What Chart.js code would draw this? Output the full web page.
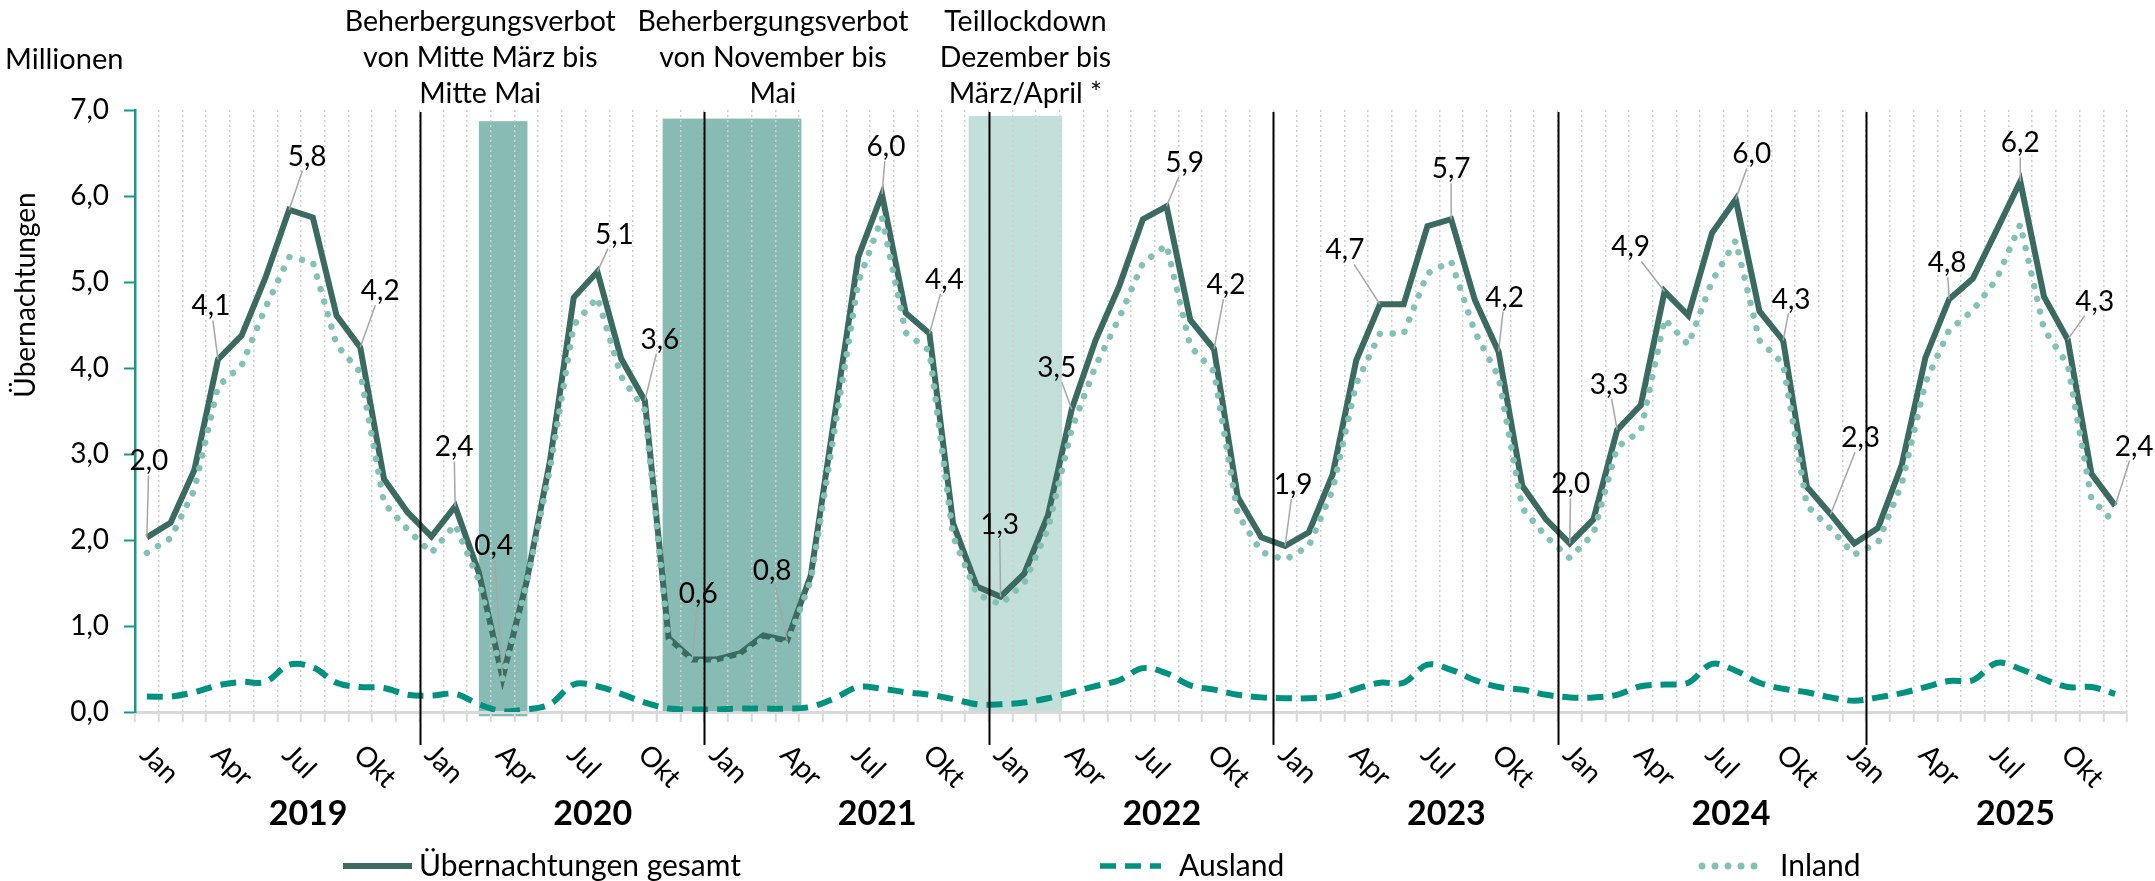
<!DOCTYPE html>
<html lang="de">
<head>
<meta charset="utf-8">
<title>Übernachtungen</title>
<script src="https://cdn.jsdelivr.net/npm/chart.js@4.4.1/dist/chart.umd.min.js"></script>
<style>
  html, body { margin: 0; padding: 0; background: #fff; }
  #wrap { width: 2155px; height: 881px; }
</style>
</head>
<body>
<div id="wrap"><canvas id="chart" width="2155" height="881"></canvas></div>
<script>
const YEARS = ['2019', '2020', '2021', '2022', '2023', '2024', '2025']
const MONTHS = ['Jan', 'Feb', 'Mär', 'Apr', 'Mai', 'Jun', 'Jul', 'Aug', 'Sep', 'Okt', 'Nov', 'Dez']
const Y_TICKS = [0, 1, 2, 3, 4, 5, 6, 7]

// Millionen Übernachtungen, Jan 2019 - Dez 2025
const GESAMT = [
  2.03, 2.20, 2.81, 4.10, 4.38, 5.05, 5.84, 5.75, 4.61, 4.24, 2.71, 2.32,
  2.04, 2.39, 1.62, 0.40, 1.50, 2.92, 4.82, 5.12, 4.11, 3.62, 0.86, 0.61,
  0.61, 0.68, 0.89, 0.83, 1.59, 3.44, 5.29, 6.02, 4.64, 4.40, 2.19, 1.46,
  1.34, 1.61, 2.29, 3.52, 4.32, 4.95, 5.73, 5.88, 4.56, 4.22, 2.50, 2.03,
  1.93, 2.09, 2.76, 4.09, 4.74, 4.74, 5.65, 5.73, 4.79, 4.19, 2.63, 2.24,
  1.96, 2.24, 3.28, 3.57, 4.89, 4.61, 5.57, 5.96, 4.66, 4.32, 2.62, 2.30,
  1.96, 2.14, 2.87, 4.12, 4.80, 5.04, 5.60, 6.17, 4.83, 4.33, 2.77, 2.40
]

const AUSLAND = [
  0.18, 0.18, 0.23, 0.31, 0.35, 0.35, 0.55, 0.52, 0.34, 0.29, 0.28, 0.20,
  0.19, 0.21, 0.09, 0.01, 0.03, 0.09, 0.32, 0.30, 0.21, 0.11, 0.04, 0.03,
  0.03, 0.04, 0.04, 0.04, 0.06, 0.16, 0.29, 0.27, 0.23, 0.20, 0.15, 0.09,
  0.09, 0.11, 0.16, 0.23, 0.30, 0.37, 0.51, 0.45, 0.31, 0.26, 0.20, 0.17,
  0.16, 0.16, 0.18, 0.27, 0.34, 0.34, 0.55, 0.49, 0.37, 0.29, 0.26, 0.20,
  0.17, 0.17, 0.20, 0.30, 0.32, 0.34, 0.56, 0.48, 0.34, 0.27, 0.23, 0.17,
  0.13, 0.17, 0.22, 0.29, 0.36, 0.37, 0.57, 0.50, 0.38, 0.29, 0.29, 0.21
]

const INLAND = [
  1.85, 2.02, 2.58, 3.79, 4.03, 4.70, 5.29, 5.23, 4.27, 3.95, 2.43, 2.12,
  1.85, 2.18, 1.53, 0.39, 1.47, 2.83, 4.50, 4.82, 3.90, 3.51, 0.82, 0.58,
  0.58, 0.64, 0.85, 0.79, 1.53, 3.28, 5.00, 5.75, 4.41, 4.20, 2.04, 1.37,
  1.25, 1.50, 2.13, 3.29, 4.02, 4.58, 5.22, 5.43, 4.25, 3.96, 2.30, 1.86,
  1.77, 1.93, 2.58, 3.82, 4.40, 4.40, 5.10, 5.24, 4.42, 3.90, 2.37, 2.04,
  1.79, 2.07, 3.08, 3.27, 4.57, 4.27, 5.01, 5.48, 4.32, 4.05, 2.40, 2.13,
  1.83, 1.97, 2.65, 3.83, 4.44, 4.67, 5.03, 5.67, 4.45, 4.04, 2.48, 2.19
]

const CATEGORIES = YEARS.flatMap((year) => MONTHS.map((m) => `${m} ${year}`))
const SHOWN_MONTHS = ['Jan', 'Apr', 'Jul', 'Okt']

// which points of the total series get a value label, and where the label sits (px from the point)
const LABELS = [
  [0, 2, -76], [3, -7, -53], [6, 18, -53], [9, 20, -56],
  [13, -1, -59], [15, -9, -132], [19, 17, -37], [21, 15, -61], [23, 6, -66],
  [27, -15, -70], [31, 4, -47], [33, 15, -54],
  [36, -1, -72], [39, -15, -41], [43, 18, -43], [45, 12, -64],
  [48, 8, -61], [52, -35, -54], [55, 0, -50], [57, 6, -54],
  [60, 1, -59], [62, -8, -45], [64, -34, -44], [67, 16, -45], [69, 8, -41], [71, 30, -76],
  [76, -2, -36], [79, 0, -38], [81, 27, -38], [83, 19, -59]
]

const COLORS = {
  total: '#3b6a61',
  abroad: '#00917f',
  domestic: '#84c1b5',
  shadeDark: '#87bbb3',
  shadeLight: '#c3dfda',
  axis: '#16998b',
  grid: '#d0d0d0',
  leader: '#a6a6a6'
}

// shaded periods, in month boundaries (0 = start of Jan 2019)
const SHADES = [
  { from: 14.5, to: 16.55, top: 6.87, bottom: -0.05, color: COLORS.shadeDark },
  { from: 22.25, to: 28.1, top: 6.9, bottom: 0, color: COLORS.shadeDark },
  { from: 35.15, to: 39.1, top: 6.93, bottom: 0, color: COLORS.shadeLight }
]

const SEPARATORS = [12, 24, 36, 48, 60, 73]

const NOTES = [
  { at: 14.56, lines: ['Beherbergungsverbot', 'von Mitte März bis', 'Mitte Mai'] },
  { at: 26.9, lines: ['Beherbergungsverbot', 'von November bis', 'Mai'] },
  { at: 37.55, lines: ['Teillockdown', 'Dezember bis', 'März/April *'] }
]

const FONT = 'Lato, "Open Sans", sans-serif'
const fmt = (v) => v.toFixed(1).replace('.', ',')

const overlayPlugin = {
  id: 'overlay',
  beforeDraw (chart) {
    const { ctx, scales: { x, y } } = chart
    const bx = (b) => x.getPixelForValue(b - 0.5)
    ctx.save()
    ctx.fillStyle = '#fff'
    ctx.fillRect(0, 0, chart.width, chart.height)
    SHADES.forEach((s) => {
      const x1 = bx(s.from)
      const x2 = bx(s.to)
      const y1 = y.getPixelForValue(s.top)
      const y2 = y.getPixelForValue(s.bottom)
      ctx.fillStyle = s.color
      ctx.fillRect(x1, y1, x2 - x1, y2 - y1)
    })
    ctx.restore()
  },
  afterDatasetsDraw (chart) {
    const { ctx, scales: { x, y } } = chart
    const bx = (b) => x.getPixelForValue(b - 0.5)

    // year separators
    ctx.save()
    ctx.strokeStyle = '#000'
    ctx.lineWidth = 2
    SEPARATORS.forEach((b) => {
      const px = Math.round(bx(b)) + 0.5
      ctx.beginPath()
      ctx.moveTo(px, y.getPixelForValue(7) + 2)
      ctx.lineTo(px, y.getPixelForValue(0) + 33)
      ctx.stroke()
    })
    ctx.restore()

    // value labels with leader lines
    const meta = chart.getDatasetMeta(1)
    ctx.save()
    ctx.font = `28px ${FONT}`
    ctx.textAlign = 'center'
    ctx.textBaseline = 'middle'
    LABELS.forEach(([i, dx, dy]) => {
      const pt = meta.data[i]
      const text = fmt(GESAMT[i])
      const cx = pt.x + dx
      const cy = pt.y + dy
      const w = ctx.measureText(text).width / 2 + 3
      const h = 14
      const vx = pt.x - cx
      const vy = pt.y - cy
      const t = Math.min(Math.abs(w / (vx || 1e-6)), Math.abs(h / (vy || 1e-6)))
      const sx = cx + vx * t
      const sy = cy + vy * t
      if (Math.hypot(pt.x - sx, pt.y - sy) > 8) {
        ctx.strokeStyle = COLORS.leader
        ctx.lineWidth = 1.5
        ctx.beginPath()
        ctx.moveTo(sx, sy)
        ctx.lineTo(pt.x, pt.y)
        ctx.stroke()
      }
      ctx.fillStyle = '#000'
      ctx.fillText(text, cx, cy)
    })
    ctx.restore()
  },
  afterDraw (chart) {
    const { ctx, scales: { x, y } } = chart
    const base = y.getPixelForValue(0)
    ctx.save()
    ctx.fillStyle = '#000'

    // value axis labels
    ctx.font = `28px ${FONT}`
    ctx.textAlign = 'right'
    ctx.textBaseline = 'middle'
    Y_TICKS.forEach((v) => ctx.fillText(fmt(v), 109, y.getPixelForValue(v)))

    // month labels, turned 45 degrees
    ctx.font = `28px ${FONT}`
    ctx.textAlign = 'left'
    ctx.textBaseline = 'top'
    CATEGORIES.forEach((c, i) => {
      const m = MONTHS[i % 12]
      if (!SHOWN_MONTHS.includes(m)) return
      ctx.save()
      ctx.translate(x.getPixelForValue(i) + 8, base + 28)
      ctx.rotate(Math.PI / 4)
      ctx.fillText(m, 0, 0)
      ctx.restore()
    })

    // year labels
    ctx.font = `bold 34px ${FONT}`
    ctx.textAlign = 'center'
    ctx.textBaseline = 'middle'
    YEARS.forEach((yr, k) => {
      ctx.fillText(yr, x.getPixelForValue(k * 12 + 6.8), base + 102)
    })

    // notes above the shaded periods
    ctx.font = `28.5px ${FONT}`
    NOTES.forEach((n) => {
      const px = x.getPixelForValue(n.at - 0.5)
      n.lines.forEach((line, j) => ctx.fillText(line, px, 22 + j * 36))
    })

    // unit and axis title
    ctx.font = `29px ${FONT}`
    ctx.textAlign = 'left'
    ctx.fillText('Millionen', 5, 60)
    ctx.save()
    ctx.translate(26, 295)
    ctx.rotate(-Math.PI / 2)
    ctx.textAlign = 'center'
    ctx.font = `28px ${FONT}`
    ctx.fillText('Übernachtungen', 0, 0)
    ctx.restore()

    // legend
    const ly = 866
    const items = [
      { x0: 343, x1: 412, tx: 419, text: 'Übernachtungen gesamt', color: COLORS.total, dash: [], cap: 'butt', w: 6 },
      { x0: 1100, x1: 1161, tx: 1179, text: 'Ausland', color: COLORS.abroad, dash: [16, 9], cap: 'butt', w: 5.5 },
      { x0: 1702, x1: 1766, tx: 1780, text: 'Inland', color: COLORS.domestic, dash: [0.01, 13], cap: 'round', w: 7 }
    ]
    ctx.font = `30px ${FONT}`
    ctx.textAlign = 'left'
    items.forEach((it) => {
      ctx.save()
      ctx.strokeStyle = it.color
      ctx.lineWidth = it.w
      ctx.lineCap = it.cap
      ctx.setLineDash(it.dash)
      ctx.beginPath()
      ctx.moveTo(it.x0, ly)
      ctx.lineTo(it.x1, ly)
      ctx.stroke()
      ctx.restore()
      ctx.fillText(it.text, it.tx, ly)
    })
    ctx.restore()
  }
}

const CONFIG = {
  type: 'line',
  data: {
    labels: CATEGORIES,
    datasets: [
      {
        label: 'Inland',
        data: INLAND,
        borderColor: COLORS.domestic,
        borderWidth: 6.5,
        borderDash: [0.01, 13],
        borderCapStyle: 'round',
        pointRadius: 0,
        tension: 0,
        order: 0
      },
      {
        label: 'Übernachtungen gesamt',
        data: GESAMT,
        borderColor: COLORS.total,
        borderWidth: 6,
        pointRadius: 0,
        tension: 0,
        order: 1
      },
      {
        label: 'Ausland',
        data: AUSLAND,
        borderColor: COLORS.abroad,
        borderWidth: 6,
        borderDash: [16, 9],
        pointRadius: 0,
        tension: 0.35,
        order: 2
      }
    ]
  },
  options: {
    responsive: false,
    animation: false,
    devicePixelRatio: 1,
    layout: { padding: { top: 110, right: 28, bottom: 0, left: 0 } },
    plugins: {
      legend: { display: false },
      tooltip: { enabled: false }
    },
    scales: {
      x: {
        type: 'category',
        offset: true,
        grid: {
          offset: true,
          color: COLORS.grid,
          lineWidth: 1.5,
          drawTicks: true,
          tickLength: 10,
          tickColor: '#d9d9d9',
          tickWidth: 2
        },
        border: { color: '#d9d9d9', width: 3, dash: [2, 3] },
        ticks: { display: false },
        afterFit: (scale) => { scale.height = 169 }
      },
      y: {
        min: Y_TICKS[0],
        max: Y_TICKS[Y_TICKS.length - 1],
        ticks: { stepSize: 1, display: false },
        grid: {
          drawOnChartArea: false,
          tickLength: 11,
          tickColor: COLORS.axis,
          tickWidth: 2
        },
        border: { color: COLORS.axis, width: 2.5 },
        afterFit: (scale) => { scale.width = 135 }
      }
    }
  },
  plugins: [overlayPlugin]
}

const start = () => {
  // eslint-disable-next-line no-unused-vars
  const chart = new Chart(document.getElementById('chart'), CONFIG)
}

if (document.fonts && document.fonts.load) {
  Promise.all([
    document.fonts.load('28px Lato'),
    document.fonts.load('bold 34px Lato')
  ]).then(start, start)
} else {
  start()
}
</script>
</body>
</html>
